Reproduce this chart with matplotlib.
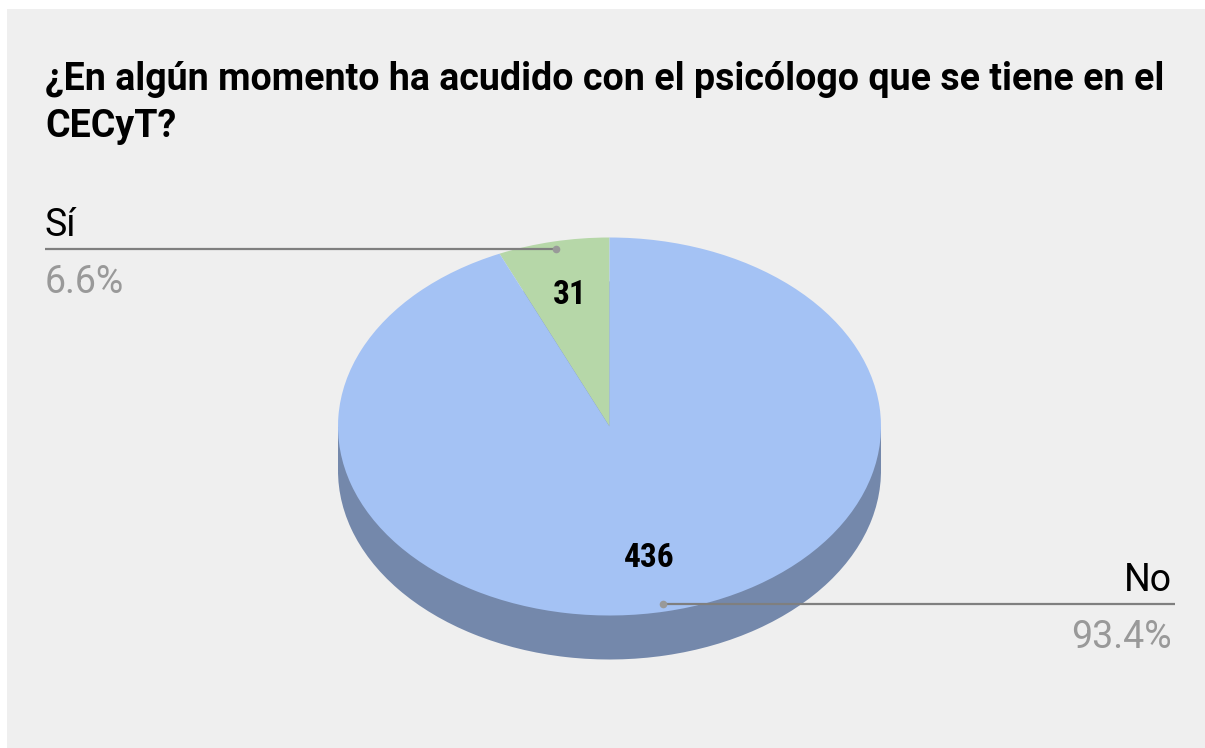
import matplotlib.pyplot as plt
import numpy as np
from matplotlib.patches import Rectangle

# Data
labels = ['Sí', 'No']
values = [31, 436]
colors = ['#b6d7a8', '#a4c2f4']
side_color = '#7488ab'
title_lines = ['¿En algún momento ha acudido con el psicólogo que se tiene en el',
               'CECyT?']

W, H = 1205, 748
cx, cy = 609.5, 426.5     # pie centre in pixels
ra, rb = 271.5, 189.0     # ellipse half axes in pixels
depth = 44.0 / rb         # side height in pie units

fig = plt.figure(figsize=(W / 100, H / 100), dpi=100)
fig.patch.set_facecolor('white')
fig.add_artist(Rectangle((7 / W, 0), 1, (H - 9) / H, transform=fig.transFigure,
                         facecolor='#efefef', edgecolor='none', zorder=0))

ax = fig.add_axes([0, 0, 1, 1])
ax.set_facecolor('none')


def px(x, y):
    # pixel -> pie units
    return (x - cx) / ra, (cy - y) / rb


# side of the 3D pie: lower pie + band between the equators
ax.pie(values, colors=[side_color] * len(values), startangle=90, counterclock=True,
       center=(0, -depth), wedgeprops=dict(linewidth=0))
ax.add_patch(Rectangle((-1, -depth), 2, depth, facecolor=side_color, edgecolor='none'))
# top face
ax.pie(values, colors=colors, startangle=90, counterclock=True,
       wedgeprops=dict(linewidth=0))

ax.set_aspect('auto')
ax.set_xlim(px(0, 0)[0], px(W, 0)[0])
ax.set_ylim(px(0, H)[1], px(0, 0)[1])
ax.axis('off')

total = sum(values)
angles = 90 + 360 * (np.cumsum(values) - np.array(values) / 2) / total

num_font = ['Liberation Sans Narrow', 'DejaVu Sans Condensed', 'Roboto Condensed',
            'Roboto', 'DejaVu Sans']
for v, ang in zip(values, angles):
    t = np.deg2rad(ang)
    ax.text(0.71 * np.cos(t), 0.71 * np.sin(t), str(v), ha='center', va='center',
            fontsize=24, fontweight='bold', family=num_font, color='black')

# leader lines and outside labels
line_c = '#7f7f7f'
for lab, v, ang in zip(labels, values, angles):
    t = np.deg2rad(ang)
    dx, dy = 0.96 * np.cos(t), 0.96 * np.sin(t)
    pct = '%.1f%%' % (100 * v / total)
    if np.cos(t) < 0:
        end = px(45, 0)[0]
        ha = 'left'
    else:
        end = px(1175, 0)[0]
        ha = 'right'
    ax.plot([dx, end], [dy, dy], color=line_c, lw=1.6, solid_capstyle='butt')
    ax.plot(dx, dy, 'o', color='#999999', ms=5.5, mec='none')
    ly = cy - dy * rb   # line y in pixels
    tx = end if ha == 'left' else px(1172, 0)[0]
    ax.text(tx, px(0, ly - 13)[1], lab, ha=ha, va='baseline', fontsize=27,
            family='Roboto', color='black')
    ax.text(tx, px(0, ly + 44)[1], pct, ha=ha, va='baseline', fontsize=27,
            family='Roboto', color='#999999')

for i, line in enumerate(title_lines):
    fig.text(45 / W, 1 - (90 + 47 * i) / H, line, ha='left', va='baseline',
             fontsize=27, fontweight='bold', family='Roboto', color='black')

fig.savefig('out.png', dpi=100, facecolor=fig.get_facecolor())
